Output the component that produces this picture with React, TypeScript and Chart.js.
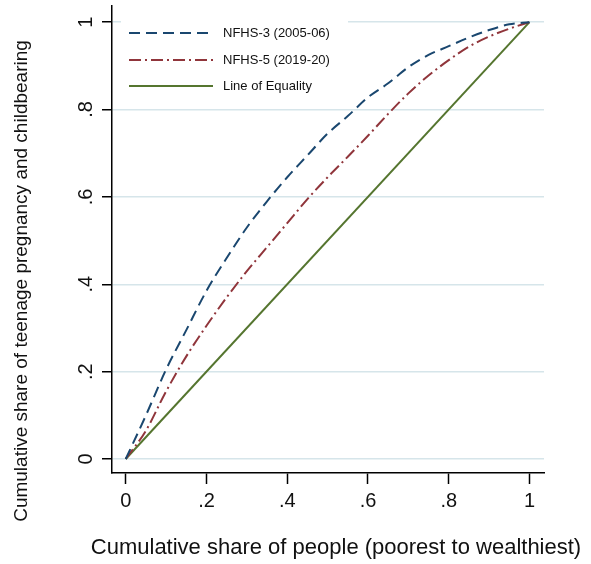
import React, { useEffect, useRef } from 'react';
import { Chart, registerables } from 'chart.js';

Chart.register(...registerables);

// ---- Data ----
const shareOfPeople = [0, 0.05, 0.1, 0.15, 0.2, 0.25, 0.3, 0.35, 0.4, 0.45, 0.5, 0.55, 0.6, 0.65, 0.7, 0.75, 0.8, 0.85, 0.9, 0.95, 1];
const nfhs3Share = [0, 0.1, 0.205, 0.295, 0.385, 0.46, 0.53, 0.59, 0.645, 0.695, 0.745, 0.785, 0.828, 0.86, 0.897, 0.925, 0.945, 0.965, 0.982, 0.995, 1];
const nfhs5Share = [0, 0.065, 0.155, 0.235, 0.305, 0.37, 0.43, 0.485, 0.54, 0.595, 0.645, 0.692, 0.74, 0.79, 0.837, 0.878, 0.913, 0.944, 0.967, 0.985, 1];
const equalityX = [0, 1];
const equalityY = [0, 1];
const tickValues = [0, 0.2, 0.4, 0.6, 0.8, 1];
const tickLabels = ['0', '.2', '.4', '.6', '.8', '1'];
const seriesLabels = ['NFHS-3 (2005-06)', 'NFHS-5 (2019-20)', 'Line of Equality'];
const xTitle = 'Cumulative share of people (poorest to wealthiest)';
const yTitle = 'Cumulative share of teenage pregnancy and childbearing';

const FONT = "'Liberation Sans', Arial, Helvetica, sans-serif";
const COLORS = ['#1a476f', '#90353b', '#55752f'];
const DASHES: number[][] = [[11, 6], [12, 4, 2, 4], []];

const fmtTick = (value: number) => {
  const i = tickValues.findIndex((v) => Math.abs(v - value) < 1e-9);
  return i >= 0 ? tickLabels[i] : '';
};

const setTicks = (scale: any) => {
  scale.ticks = tickValues.map((v) => ({ value: v }));
};

const decorPlugin = {
  id: 'decor',
  afterDraw(chart: any) {
    const ctx = chart.ctx as CanvasRenderingContext2D;
    ctx.save();
    // Legend
    ctx.fillStyle = '#ffffff';
    ctx.fillRect(121, 10, 227, 90);
    const rows = [33, 60, 86];
    seriesLabels.forEach((label, i) => {
      ctx.save();
      ctx.strokeStyle = COLORS[i];
      ctx.lineWidth = 2;
      ctx.setLineDash(DASHES[i]);
      ctx.beginPath();
      ctx.moveTo(129, rows[i]);
      ctx.lineTo(213, rows[i]);
      ctx.stroke();
      ctx.restore();
      ctx.fillStyle = '#111111';
      ctx.font = `13px ${FONT}`;
      ctx.textAlign = 'left';
      ctx.textBaseline = 'middle';
      ctx.fillText(label, 223, rows[i] + 0.5);
    });
    // X title
    ctx.fillStyle = '#111111';
    ctx.font = `22px ${FONT}`;
    ctx.textAlign = 'center';
    ctx.textBaseline = 'alphabetic';
    ctx.fillText(xTitle, 336, 554);
    // Y title
    ctx.translate(26.5, 281);
    ctx.rotate(-Math.PI / 2);
    ctx.font = `19px ${FONT}`;
    ctx.textAlign = 'center';
    ctx.textBaseline = 'alphabetic';
    ctx.fillText(yTitle, 0, 0);
    ctx.restore();
  },
};

export default function App() {
  const ref = useRef<HTMLCanvasElement | null>(null);

  useEffect(() => {
    if (!ref.current) return;
    const mk = (xs: number[], ys: number[]) => xs.map((x, i) => ({ x, y: ys[i] }));
    const chart = new Chart(ref.current, {
      type: 'line',
      data: {
        datasets: [
          { label: seriesLabels[0], data: mk(shareOfPeople, nfhs3Share), borderColor: COLORS[0], borderDash: DASHES[0], borderWidth: 2, pointRadius: 0, cubicInterpolationMode: 'monotone', fill: false },
          { label: seriesLabels[1], data: mk(shareOfPeople, nfhs5Share), borderColor: COLORS[1], borderDash: DASHES[1], borderWidth: 2, pointRadius: 0, cubicInterpolationMode: 'monotone', fill: false },
          { label: seriesLabels[2], data: mk(equalityX, equalityY), borderColor: COLORS[2], borderWidth: 2, pointRadius: 0, tension: 0, fill: false },
        ],
      },
      options: {
        animation: false,
        responsive: false,
        maintainAspectRatio: false,
        layout: { padding: { left: 0, right: 47, top: 6, bottom: 0 } },
        plugins: { legend: { display: false }, tooltip: { enabled: false }, title: { display: false } },
        scales: {
          x: {
            type: 'linear',
            min: -0.034,
            max: 1.036,
            afterBuildTicks: setTicks,
            afterFit: (s: any) => { s.height = 91; s.paddingLeft = 0; s.paddingRight = 0; },
            grid: { drawOnChartArea: false, drawTicks: true, tickLength: 11, tickColor: '#000000', tickWidth: 1.5 },
            border: { display: true, color: '#000000', width: 1.5 },
            ticks: { callback: (v: any) => fmtTick(Number(v)), color: '#111111', font: { family: FONT, size: 20 }, padding: 5.5, maxRotation: 0, minRotation: 0, autoSkip: false },
            title: { display: false },
          },
          y: {
            type: 'linear',
            min: -0.032,
            max: 1.037,
            afterBuildTicks: setTicks,
            afterFit: (s: any) => { s.width = 112; s.paddingTop = 0; s.paddingBottom = 0; },
            grid: { color: '#d6e5ea', lineWidth: 1.5, drawTicks: true, tickLength: 10, tickColor: '#000000', tickWidth: 1.5 },
            border: { display: true, color: '#000000', width: 1.5 },
            ticks: { callback: (v: any) => fmtTick(Number(v)), color: '#111111', font: { family: FONT, size: 20 }, padding: 7.5, minRotation: 90, maxRotation: 90, crossAlign: 'center', autoSkip: false },
            title: { display: false },
          },
        },
      },
      plugins: [decorPlugin],
    } as any);
    return () => chart.destroy();
  }, []);

  return (
    <div style={{ position: 'fixed', left: 0, top: 0, width: 591, height: 564, background: '#ffffff' }}>
      <canvas ref={ref} width={591} height={564} style={{ width: 591, height: 564, display: 'block' }} />
    </div>
  );
}
